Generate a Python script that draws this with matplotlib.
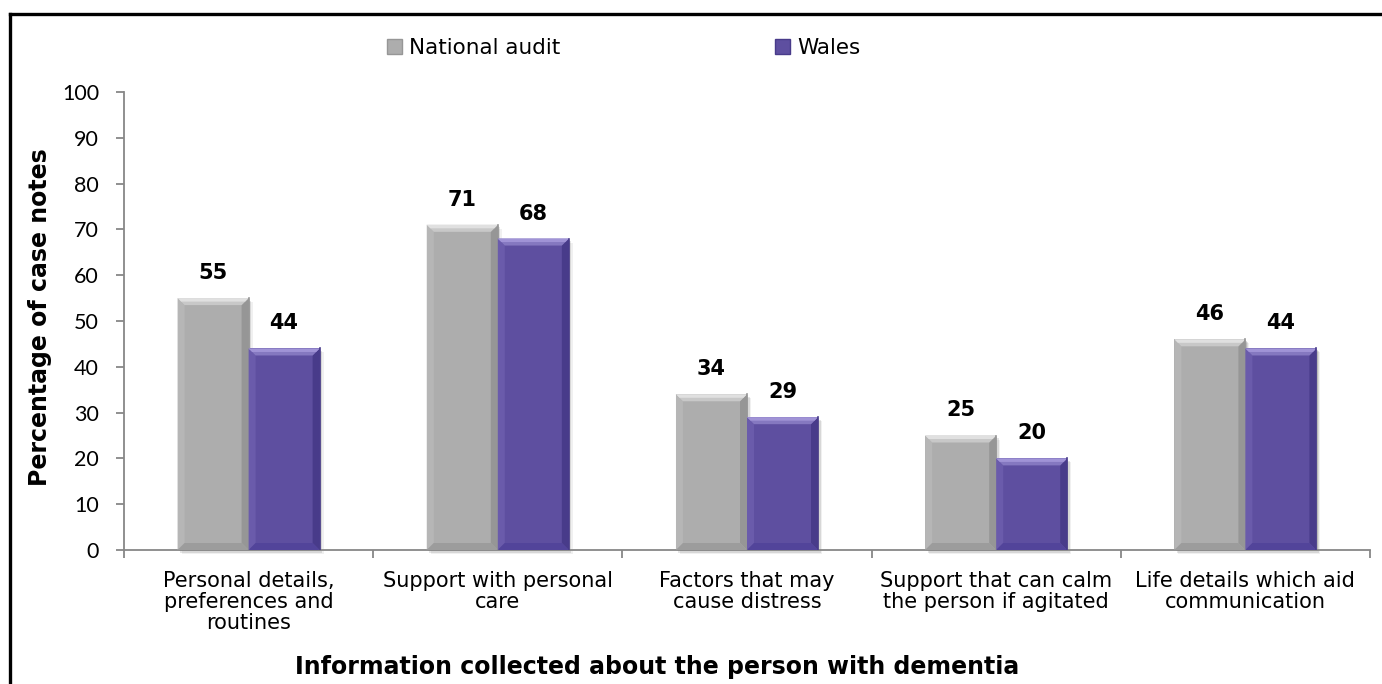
import numpy as np
import matplotlib.pyplot as plt
from matplotlib.patches import Polygon, Rectangle
from matplotlib.lines import Line2D

# data
categories = ['Personal details,\npreferences and\nroutines',
              'Support with personal\ncare',
              'Factors that may\ncause distress',
              'Support that can calm\nthe person if agitated',
              'Life details which aid\ncommunication']
national = [55, 71, 34, 25, 46]
wales = [44, 68, 29, 20, 44]
series_names = ['National audit', 'Wales']

# colours: face, top outer, top inner, left, right, bottom
grey = ['#ADADAD', '#E0E0E0', '#C8C8C8', '#B6B6B6', '#969696', '#9C9C9C']
purple = ['#5E4FA0', '#A093D6', '#8578C0', '#6A5BAB', '#483B8A', '#52449A']

plt.rcParams['font.family'] = ['DejaVu Sans']

fig = plt.figure(figsize=(13.82, 6.84), dpi=100)
ax = fig.add_axes([124/1382, 1-550/684, 1246/1382, 458/684])

x = np.arange(len(categories))
w = 0.285
ax.set_xlim(-0.5, len(categories)-0.5)
ax.set_ylim(0, 100)

b1 = ax.bar(x - w/2, national, w, color=grey[0], zorder=2, label=series_names[0])
b2 = ax.bar(x + w/2, wales, w, color=purple[0], zorder=2, label=series_names[1])

# pixel sizes for bevel
pxx = (ax.get_xlim()[1]-ax.get_xlim()[0]) / ax.bbox.width
pxy = (ax.get_ylim()[1]-ax.get_ylim()[0]) / ax.bbox.height


def bevel(rect, cols, b=7):
    x0, y0 = rect.get_x(), rect.get_y()
    x1, y1 = x0 + rect.get_width(), y0 + rect.get_height()
    dx, dy = b*pxx, b*pxy
    # soft shadow
    for k, a in [(4, 0.06), (2.5, 0.10), (1.2, 0.14)]:
        ax.add_patch(Rectangle((x0 + k*pxx, y0 - k*pxy), x1-x0, y1-y0,
                               color='#000000', alpha=a, lw=0, zorder=1, clip_on=False))
    polys = [
        ([(x0, y0), (x0, y1), (x0+dx, y1-dy), (x0+dx, y0+dy)], cols[3]),
        ([(x1, y0), (x1, y1), (x1-dx, y1-dy), (x1-dx, y0+dy)], cols[4]),
        ([(x0, y0), (x1, y0), (x1-dx, y0+dy), (x0+dx, y0+dy)], cols[5]),
        ([(x0, y1), (x1, y1), (x1-dx, y1-dy), (x0+dx, y1-dy)], cols[2]),
        ([(x0, y1), (x1, y1), (x1-dx/2, y1-dy/2), (x0+dx/2, y1-dy/2)], cols[1]),
    ]
    for pts, c in polys:
        ax.add_patch(Polygon(pts, closed=True, facecolor=c, edgecolor='none', zorder=3))
    # darker right edge line
    ax.plot([x1, x1], [y0, y1], color=cols[4], lw=1.2, zorder=3)


for r in b1:
    bevel(r, grey)
for r in b2:
    bevel(r, purple)

for bars in (b1, b2):
    for r in bars:
        ax.annotate(f'{r.get_height():.0f}', (r.get_x()+r.get_width()/2, r.get_height()),
                    xytext=(0, 18), textcoords='offset points', ha='center', va='center',
                    fontsize=15, fontweight='bold', color='black', zorder=4)

# axes styling
for s in ['top', 'right']:
    ax.spines[s].set_visible(False)
for s in ['left', 'bottom']:
    ax.spines[s].set_color('#878787')
    ax.spines[s].set_linewidth(1.3)
ax.set_yticks(np.arange(0, 101, 10))
ax.tick_params(axis='y', length=6, width=1.3, color='#878787', labelsize=15.5, pad=12)
for t in ax.get_yticklabels():
    t.set_family(['Lato', 'DejaVu Sans'])
ax.set_xticks(x)
ax.set_xticklabels(categories, fontsize=15, linespacing=1.08)
ax.tick_params(axis='x', length=0, pad=15)
ax.set_xticks(np.arange(-0.5, len(categories), 1), minor=True)
ax.tick_params(axis='x', which='minor', length=6, width=1.3, color='#878787')

ax.set_ylabel('Percentage of case notes', fontsize=17, fontweight='bold')
ax.yaxis.set_label_coords(-0.058, 0.508)
ax.set_xlabel('Information collected about the person with dementia', fontsize=17, fontweight='bold')
ax.xaxis.set_label_coords(0.428, -0.229)

h = [Rectangle((0, 0), 1, 1, facecolor=grey[0], edgecolor=grey[4], lw=1),
     Rectangle((0, 0), 1, 1, facecolor=purple[0], edgecolor=purple[4], lw=1)]
ax.legend(h, series_names, loc='center', bbox_to_anchor=(0.401, 1.096), ncol=2,
          frameon=False, fontsize=15.5, handlelength=0.7, handleheight=0.7,
          handletextpad=0.3, columnspacing=10.0, borderaxespad=0)

# outer frame (only top and left visible)
fig.add_artist(Line2D([10/1382, 1], [1-14/684, 1-14/684], color='black', lw=2.4,
                      transform=fig.transFigure))
fig.add_artist(Line2D([10/1382, 10/1382], [0, 1-14/684], color='black', lw=2.4,
                      transform=fig.transFigure))

fig.savefig('out.png', dpi=100)
